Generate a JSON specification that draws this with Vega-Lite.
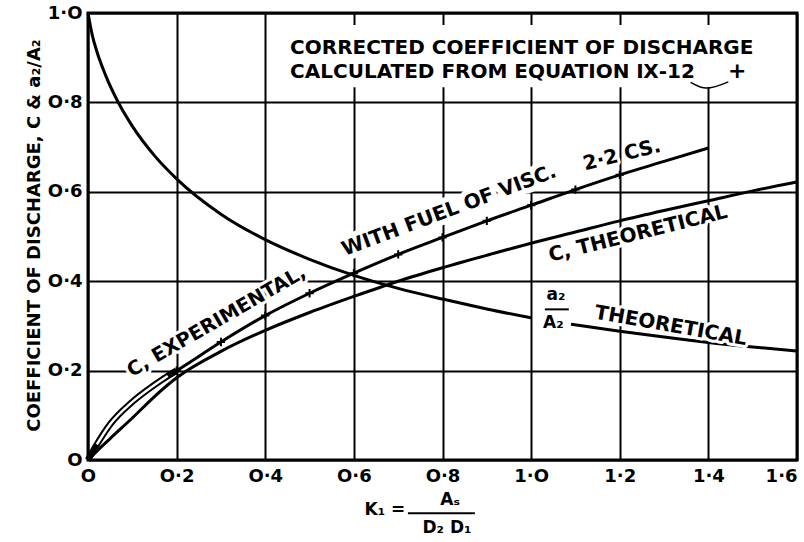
{
  "$schema": "https://vega.github.io/schema/vega-lite/v6.json",
  "width": 709,
  "height": 447,
  "autosize": {"type": "none"},
  "padding": {"left": 88, "top": 13, "right": 7, "bottom": 82},
  "background": "white",
  "config": {
    "view": {"stroke": "black", "strokeWidth": 3},
    "font": "DejaVu Sans",
    "text": {"font": "DejaVu Sans", "fontWeight": "bold"}
  },
  "datasets": {
    "a2": [
      {"k": 0, "v": 1.0, "seg": "a"},
      {"k": 0.01, "v": 0.949, "seg": "a"},
      {"k": 0.02, "v": 0.914, "seg": "a"},
      {"k": 0.04, "v": 0.86, "seg": "a"},
      {"k": 0.07, "v": 0.797, "seg": "a"},
      {"k": 0.1, "v": 0.747, "seg": "a"},
      {"k": 0.15, "v": 0.681, "seg": "a"},
      {"k": 0.2, "v": 0.629, "seg": "a"},
      {"k": 0.3, "v": 0.55, "seg": "a"},
      {"k": 0.4, "v": 0.493, "seg": "a"},
      {"k": 0.5, "v": 0.449, "seg": "a"},
      {"k": 0.6, "v": 0.413, "seg": "a"},
      {"k": 0.7, "v": 0.384, "seg": "a"},
      {"k": 0.8, "v": 0.36, "seg": "a"},
      {"k": 0.9, "v": 0.338, "seg": "a"},
      {"k": 1.0, "v": 0.318, "seg": "a"},
      {"k": 1.09, "v": 0.304, "seg": "b"},
      {"k": 1.2, "v": 0.288, "seg": "b"},
      {"k": 1.3, "v": 0.275, "seg": "b"},
      {"k": 1.4, "v": 0.263, "seg": "b"},
      {"k": 1.5, "v": 0.253, "seg": "b"},
      {"k": 1.6, "v": 0.244, "seg": "b"}
    ],
    "cth": [
      {"k": 0, "v": 0},
      {"k": 0.02, "v": 0.02},
      {"k": 0.05, "v": 0.048},
      {"k": 0.1, "v": 0.094},
      {"k": 0.15, "v": 0.142},
      {"k": 0.2, "v": 0.184},
      {"k": 0.3, "v": 0.243},
      {"k": 0.4, "v": 0.29},
      {"k": 0.5, "v": 0.33},
      {"k": 0.6, "v": 0.366},
      {"k": 0.7, "v": 0.4},
      {"k": 0.8, "v": 0.43},
      {"k": 0.9, "v": 0.458},
      {"k": 1.0, "v": 0.485},
      {"k": 1.1, "v": 0.51},
      {"k": 1.2, "v": 0.535},
      {"k": 1.3, "v": 0.558},
      {"k": 1.4, "v": 0.58},
      {"k": 1.5, "v": 0.602},
      {"k": 1.6, "v": 0.622}
    ],
    "cexp": [
      {"k": 0, "v": 0},
      {"k": 0.02, "v": 0.035},
      {"k": 0.05, "v": 0.08},
      {"k": 0.1, "v": 0.13},
      {"k": 0.15, "v": 0.168},
      {"k": 0.18, "v": 0.188},
      {"k": 0.2, "v": 0.2},
      {"k": 0.3, "v": 0.264},
      {"k": 0.4, "v": 0.323},
      {"k": 0.5, "v": 0.373},
      {"k": 0.6, "v": 0.418},
      {"k": 0.7, "v": 0.46},
      {"k": 0.8, "v": 0.498},
      {"k": 0.9, "v": 0.535},
      {"k": 1.0, "v": 0.57},
      {"k": 1.1, "v": 0.605},
      {"k": 1.2, "v": 0.638},
      {"k": 1.3, "v": 0.668},
      {"k": 1.4, "v": 0.698}
    ]
  },
  "encoding": {
    "x": {
      "field": "k",
      "type": "quantitative",
      "scale": {"domain": [0, 1.6], "nice": false, "zero": false},
      "axis": {
        "values": [0, 0.2, 0.4, 0.6, 0.8, 1.0, 1.2, 1.4, 1.6],
        "grid": true,
        "gridColor": "black",
        "gridWidth": 2,
        "gridOpacity": 1,
        "domain": false,
        "ticks": false,
        "labelFont": "DejaVu Sans",
        "labelFontWeight": "bold",
        "labelFontSize": 18,
        "labelColor": "black",
        "labelPadding": 7,
        "labelFlush": false,
        "labelOverlap": false,
        "labelAlign": {"condition": {"test": "datum.value >= 1.59", "value": "right"}, "value": "center"},
        "labelExpr": "datum.value == 0 ? 'O' : replace(replace(format(datum.value, '.1f'), '.', '·'), '0', 'O')",
        "title": null
      }
    },
    "y": {
      "field": "v",
      "type": "quantitative",
      "scale": {"domain": [0, 1], "nice": false, "zero": false},
      "axis": {
        "values": [0, 0.2, 0.4, 0.6, 0.8, 1.0],
        "grid": true,
        "gridColor": "black",
        "gridWidth": 2,
        "gridOpacity": 1,
        "domain": false,
        "ticks": false,
        "labelFont": "DejaVu Sans",
        "labelFontWeight": "bold",
        "labelFontSize": 18,
        "labelColor": "black",
        "labelPadding": 6,
        "labelFlush": false,
        "labelOverlap": false,
        "labelExpr": "datum.value == 0 ? 'O' : replace(replace(format(datum.value, '.1f'), '.', '·'), '0', 'O')",
        "title": "COEFFICIENT OF DISCHARGE, C & a₂/A₂",
        "titleFont": "DejaVu Sans",
        "titleFontWeight": "bold",
        "titleFontSize": 18,
        "titleColor": "black",
        "titleX": -45,
        "titleY": 222,
        "titleBaseline": "bottom"
      }
    }
  },
  "layer": [
    {
      "data": {"values": [{"k": 0.47, "k2": 1.5, "v": 0.834, "v2": 0.973}]},
      "mark": {"type": "rect", "fill": "white"},
      "encoding": {"x2": {"field": "k2"}, "y2": {"field": "v2"}}
    },
    {
      "data": {"name": "a2"},
      "mark": {"type": "line", "color": "black", "strokeWidth": 3, "interpolate": "monotone"},
      "encoding": {"detail": {"field": "seg"}}
    },
    {
      "data": {"name": "cth"},
      "mark": {"type": "line", "color": "black", "strokeWidth": 3, "interpolate": "monotone"},
      "encoding": {}
    },
    {
      "data": {"name": "cexp"},
      "mark": {"type": "line", "color": "black", "strokeWidth": 3, "interpolate": "monotone"},
      "encoding": {}
    },
    {
      "data": {"name": "cexp"},
      "transform": [{"filter": {"field": "k", "range": [0, 0.2]}}],
      "mark": {"type": "line", "color": "black", "strokeWidth": 6.5, "interpolate": "monotone"},
      "encoding": {}
    },
    {
      "data": {"name": "cexp"},
      "transform": [{"filter": {"field": "k", "range": [0.02, 0.18]}}],
      "mark": {"type": "line", "color": "white", "strokeWidth": 2.5, "interpolate": "monotone"},
      "encoding": {}
    },
    {
      "data": {"values": [{"t": "C, EXPERIMENTAL,", "k": 0.29, "v": 0.31}]},
      "encoding": {"text": {"field": "t"}},
      "layer": [
        {"mark": {"type": "text", "angle": -30, "fontSize": 19.5, "color": "white", "stroke": "white", "strokeWidth": 6, "strokeJoin": "round"}},
        {"mark": {"type": "text", "angle": -30, "fontSize": 19.5, "color": "black"}}
      ]
    },
    {
      "data": {"values": [{"t": "WITH FUEL OF VISC.", "k": 0.815, "v": 0.558}]},
      "encoding": {"text": {"field": "t"}},
      "layer": [
        {"mark": {"type": "text", "angle": -20.5, "fontSize": 20, "color": "white", "stroke": "white", "strokeWidth": 11, "strokeJoin": "round"}},
        {"mark": {"type": "text", "angle": -20.5, "fontSize": 20, "color": "black"}}
      ]
    },
    {
      "data": {"values": [{"t": "2·2 CS.", "k": 1.205, "v": 0.682}]},
      "encoding": {"text": {"field": "t"}},
      "layer": [
        {"mark": {"type": "text", "angle": -14, "fontSize": 20, "color": "white", "stroke": "white", "strokeWidth": 6, "strokeJoin": "round"}},
        {"mark": {"type": "text", "angle": -14, "fontSize": 20, "color": "black"}}
      ]
    },
    {
      "data": {"name": "cexp"},
      "transform": [{"filter": {"field": "k", "range": [0.2, 1.2]}}],
      "mark": {"type": "point", "shape": "M-1,0H1M0,-1V1", "size": 70, "stroke": "black", "strokeWidth": 2, "filled": false, "opacity": 1}
    },
    {
      "data": {"values": [{"t": "C, THEORETICAL", "k": 1.241, "v": 0.506}]},
      "encoding": {"text": {"field": "t"}},
      "layer": [
        {"mark": {"type": "text", "angle": -14, "fontSize": 20, "color": "white", "stroke": "white", "strokeWidth": 6, "strokeJoin": "round"}},
        {"mark": {"type": "text", "angle": -14, "fontSize": 20, "color": "black"}}
      ]
    },
    {
      "data": {"values": [{"t": "THEORETICAL", "k": 1.315, "v": 0.3}]},
      "encoding": {"text": {"field": "t"}},
      "layer": [
        {"mark": {"type": "text", "angle": 10, "fontSize": 20, "color": "white", "stroke": "white", "strokeWidth": 6, "strokeJoin": "round"}},
        {"mark": {"type": "text", "angle": 10, "fontSize": 20, "color": "black"}}
      ]
    },
    {
      "data": {"values": [{"t": "a₂", "k": 1.056, "v": 0.37}, {"t": "A₂", "k": 1.05, "v": 0.306}]},
      "encoding": {"text": {"field": "t"}},
      "layer": [
        {"mark": {"type": "text", "fontSize": 17, "color": "white", "stroke": "white", "strokeWidth": 5, "strokeJoin": "round"}},
        {"mark": {"type": "text", "fontSize": 17, "color": "black"}}
      ]
    },
    {
      "data": {"values": [{"k": 1.031, "k2": 1.085, "v": 0.337}]},
      "mark": {"type": "rule", "color": "black", "strokeWidth": 2},
      "encoding": {"x2": {"field": "k2"}}
    },
    {
      "data": {"values": [
        {"t": "CORRECTED COEFFICIENT OF DISCHARGE", "k": 0.456, "v": 0.922},
        {"t": "CALCULATED FROM EQUATION Ⅸ-12", "k": 0.456, "v": 0.868}
      ]},
      "mark": {"type": "text", "align": "left", "fontSize": 20, "color": "black"},
      "encoding": {"text": {"field": "t"}}
    },
    {
      "data": {"values": [{"t": "+", "k": 1.465, "v": 0.87}]},
      "mark": {"type": "text", "fontSize": 22, "color": "black"},
      "encoding": {"text": {"field": "t"}}
    },
    {
      "data": {"values": [
        {"k": 1.36, "v": 0.845},
        {"k": 1.395, "v": 0.832},
        {"k": 1.445, "v": 0.846}
      ]},
      "mark": {"type": "line", "color": "black", "strokeWidth": 1.5, "interpolate": "monotone"},
      "encoding": {}
    },
    {
      "data": {"values": [
        {"t": "K₁ =", "k": 0.67, "v": -0.112},
        {"t": "Aₛ", "k": 0.817, "v": -0.089},
        {"t": "D₂  D₁", "k": 0.81, "v": -0.152}
      ]},
      "mark": {"type": "text", "fontSize": 17, "color": "black"},
      "encoding": {"text": {"field": "t"}}
    },
    {
      "data": {"values": [{"k": 0.722, "k2": 0.873, "v": -0.119}]},
      "mark": {"type": "rule", "color": "black", "strokeWidth": 2},
      "encoding": {"x2": {"field": "k2"}}
    }
  ]
}
